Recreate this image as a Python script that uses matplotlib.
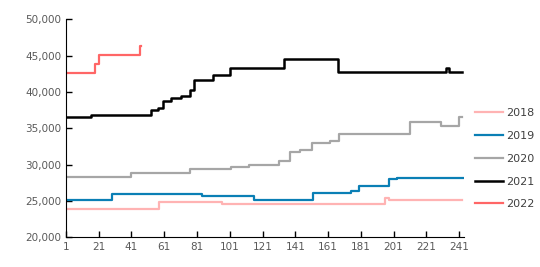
import matplotlib.pyplot as plt

# day on which each price level starts, and the level
d2018 = [1, 58, 96, 196, 198, 219]
v2018 = [23900, 24800, 24650, 25400, 25100, 25200]
d2019 = [1, 29, 84, 116, 152, 175, 180, 198, 203]
v2019 = [25200, 25900, 25700, 25100, 26100, 26400, 27000, 28000, 28200]
d2020 = [1, 41, 77, 102, 113, 131, 138, 144, 151, 162, 168, 211, 230, 241]
v2020 = [28250, 28850, 29400, 29700, 30000, 30500, 31700, 32000, 33000, 33300, 34200, 35900, 35300, 36500]
d2021 = [1, 16, 53, 57, 60, 65, 71, 77, 79, 91, 101, 134, 167, 233, 235]
v2021 = [36500, 36800, 37500, 37750, 38700, 39100, 39400, 40300, 41600, 42300, 43300, 44500, 42700, 43300, 42700]
d2022 = [1, 19, 21, 46]
v2022 = [42650, 43800, 45100, 46300]
last_day = {'2018': 243, '2019': 244, '2020': 243, '2021': 243, '2022': 47}

series = [('2018', d2018, v2018, '#ffb3b3'),
          ('2019', d2019, v2019, '#0a7fb5'),
          ('2020', d2020, v2020, '#a6a6a6'),
          ('2021', d2021, v2021, '#000000'),
          ('2022', d2022, v2022, '#ff6666')]

fig = plt.figure(figsize=(5.4, 2.67), dpi=100, facecolor='w')
ax = fig.add_axes([0.1222, 0.111, 0.737, 0.817])

for name, d, v, c in series:
    x = d + [last_day[name]]
    y = v + [v[-1]]
    ax.plot(x, y, drawstyle='steps-post', color=c, lw=1.8 if name == '2021' else 1.6, label=name)

ax.set_xlim(1, 244)
ax.set_ylim(20000, 50000)
ax.set_xticks(range(1, 242, 20))
ax.set_yticks(range(20000, 50001, 5000))
ax.yaxis.set_major_formatter(plt.FuncFormatter(lambda v, p: '{:,}'.format(int(v))))
ax.tick_params(direction='in', length=4, width=1, labelsize=7.5, labelcolor='#595959')
ax.spines['top'].set_visible(False)
ax.spines['right'].set_visible(False)

ax.legend(loc='center left', bbox_to_anchor=(1.0, 0.36), frameon=False, fontsize=8,
          handlelength=2.5, handletextpad=0.25, borderaxespad=0.6, labelspacing=1.15,
          labelcolor='#404040')

fig.savefig('out.png', dpi=100)
